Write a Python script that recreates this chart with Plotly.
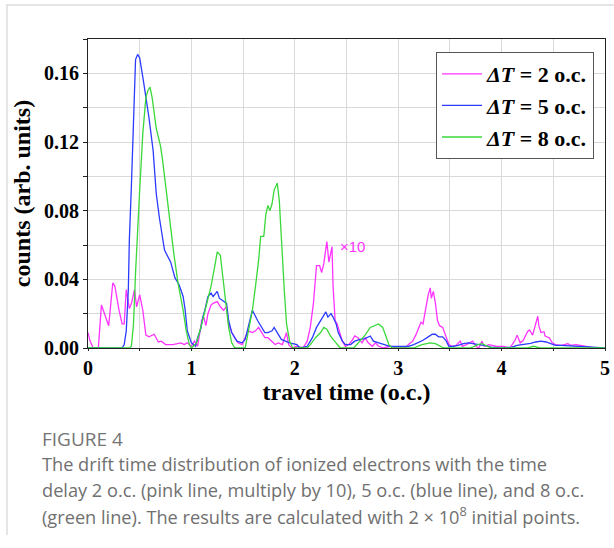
import plotly.graph_objects as go

# ---------------- data ----------------
pink_x = [0.0, 0.02, 0.05, 0.10, 0.13, 0.155, 0.20, 0.24, 0.26, 0.30, 0.33, 0.35, 0.37, 0.40, 0.42, 0.45, 0.47, 0.50,
          0.53, 0.56, 0.59, 0.64, 0.68, 0.71, 0.75, 0.82, 0.87, 0.90, 0.93, 0.96, 1.00, 1.03, 1.06, 1.08, 1.10, 1.12,
          1.14, 1.16, 1.19, 1.21, 1.25, 1.28, 1.31, 1.34, 1.36, 1.39, 1.42, 1.45, 1.49, 1.52, 1.55, 1.59, 1.62, 1.65,
          1.68, 1.71, 1.74, 1.78, 1.81, 1.84, 1.88, 1.92, 1.94, 1.97, 2.02, 2.08, 2.12, 2.15, 2.18, 2.21, 2.24, 2.26,
          2.28, 2.31, 2.33, 2.36, 2.37, 2.39, 2.41, 2.43, 2.46, 2.49, 2.52, 2.55, 2.58, 2.61, 2.65, 2.68, 2.71, 2.75,
          2.78, 2.81, 2.86, 2.92, 3.00, 3.07, 3.10, 3.14, 3.17, 3.20, 3.22, 3.24, 3.27, 3.29, 3.31, 3.32, 3.34, 3.36,
          3.38, 3.40, 3.43, 3.46, 3.49, 3.52, 3.56, 3.60, 3.62, 3.66, 3.72, 3.75, 3.78, 3.81, 3.83, 3.88, 3.95, 4.02,
          4.08, 4.13, 4.15, 4.18, 4.21, 4.25, 4.27, 4.30, 4.32, 4.35, 4.36, 4.38, 4.41, 4.42, 4.46, 4.49, 4.52, 4.58,
          4.64, 4.67, 4.72, 4.76, 4.82, 4.90, 5.0]
pink_y = [0.009, 0.004, 0.0, 0.0, 0.025, 0.021, 0.013, 0.038, 0.036, 0.022, 0.014, 0.014, 0.034, 0.023, 0.026, 0.034,
          0.024, 0.031, 0.022, 0.0075, 0.0065, 0.008, 0.0035, 0.004, 0.002, 0.002, 0.0025, 0.003, 0.002, 0.003, 0.001,
          0.004, 0.001, 0.010, 0.016, 0.018, 0.013, 0.020, 0.025, 0.026, 0.027, 0.024, 0.022, 0.024, 0.014, 0.009,
          0.006, 0.003, 0.002, 0.006, 0.010, 0.009, 0.010, 0.012, 0.009, 0.006, 0.006, 0.004, 0.002, 0.003, 0.002,
          0.009, 0.002, 0.0, 0.001, 0.0, 0.004, 0.012, 0.026, 0.048, 0.048, 0.044, 0.049, 0.062, 0.050, 0.059, 0.036,
          0.016, 0.014, 0.010, 0.004, 0.001, 0.002, 0.004, 0.007, 0.006, 0.003, 0.006, 0.003, 0.001, 0.003, 0.001,
          0.0, 0.001, 0.0, 0.0, 0.002, 0.004, 0.0075, 0.012, 0.015, 0.014, 0.024, 0.031, 0.035, 0.029, 0.033, 0.026,
          0.016, 0.013, 0.012, 0.0075, 0.002, 0.001, 0.0015, 0.004, 0.001, 0.002, 0.004, 0.001, 0.0, 0.004, 0.001,
          0.002, 0.001, 0.001, 0.0, 0.0045, 0.0075, 0.003, 0.0045, 0.0095, 0.0105, 0.0075, 0.012, 0.0185, 0.013,
          0.009, 0.0095, 0.007, 0.006, 0.003, 0.002, 0.0015, 0.0025, 0.0015, 0.002, 0.0015, 0.001, 0.0, 0.0]

blue_x = [0.0, 0.33, 0.35, 0.37, 0.39, 0.40, 0.42, 0.44, 0.46, 0.48, 0.50, 0.54, 0.56, 0.59, 0.63, 0.66, 0.69, 0.74,
          0.80, 0.84, 0.88, 0.92, 0.94, 0.96, 1.00, 1.04, 1.06, 1.09, 1.11, 1.13, 1.16, 1.19, 1.21, 1.25, 1.27, 1.31,
          1.34, 1.36, 1.39, 1.44, 1.49, 1.52, 1.55, 1.59, 1.64, 1.68, 1.71, 1.74, 1.78, 1.80, 1.83, 1.87, 1.95, 2.02,
          2.05, 2.12, 2.17, 2.21, 2.26, 2.30, 2.32, 2.35, 2.37, 2.40, 2.42, 2.46, 2.49, 2.54, 2.58, 2.63, 2.68, 2.73,
          2.76, 2.81, 2.86, 2.92, 3.00, 3.10, 3.15, 3.20, 3.24, 3.29, 3.33, 3.36, 3.39, 3.43, 3.46, 3.49, 3.53, 3.58,
          3.63, 3.68, 3.73, 3.78, 3.83, 3.90, 4.00, 4.10, 4.15, 4.21, 4.28, 4.33, 4.38, 4.43, 4.47, 4.52, 4.58, 4.66,
          4.76, 4.86, 4.95, 5.0]
blue_y = [0.0, 0.0, 0.002, 0.010, 0.034, 0.063, 0.095, 0.135, 0.168, 0.171, 0.169, 0.154, 0.146, 0.134, 0.115, 0.090,
          0.076, 0.057, 0.050, 0.041, 0.037, 0.030, 0.022, 0.010, 0.003, 0.001, 0.006, 0.011, 0.018, 0.022, 0.030,
          0.032, 0.030, 0.033, 0.029, 0.027, 0.026, 0.016, 0.009, 0.004, 0.003, 0.005, 0.012, 0.022, 0.016, 0.012,
          0.009, 0.009, 0.010, 0.012, 0.009, 0.005, 0.003, 0.002, 0.0, 0.001, 0.006, 0.012, 0.017, 0.021, 0.018,
          0.020, 0.018, 0.014, 0.009, 0.004, 0.002, 0.002, 0.004, 0.005, 0.0055, 0.007, 0.004, 0.003, 0.002, 0.001,
          0.001, 0.001, 0.002, 0.0035, 0.0045, 0.0065, 0.008, 0.008, 0.0065, 0.0065, 0.0045, 0.001, 0.001, 0.0015,
          0.0025, 0.003, 0.0027, 0.002, 0.0015, 0.0005, 0.0, 0.0005, 0.0015, 0.002, 0.0027, 0.0035, 0.004, 0.0035,
          0.0025, 0.0015, 0.0015, 0.0012, 0.001, 0.0005, 0.0, 0.0]

green_x = [0.0, 0.40, 0.42, 0.44, 0.46, 0.48, 0.50, 0.53, 0.56, 0.58, 0.60, 0.62, 0.66, 0.70, 0.72, 0.75, 0.77, 0.79,
           0.83, 0.87, 0.92, 0.95, 0.98, 1.00, 1.05, 1.10, 1.15, 1.19, 1.23, 1.25, 1.28, 1.30, 1.33, 1.36, 1.39, 1.42,
           1.52, 1.55, 1.59, 1.62, 1.65, 1.67, 1.70, 1.72, 1.74, 1.76, 1.78, 1.80, 1.83, 1.85, 1.87, 1.90, 1.92, 1.95,
           1.98, 2.12, 2.15, 2.20, 2.25, 2.28, 2.31, 2.34, 2.37, 2.41, 2.44, 2.57, 2.63, 2.68, 2.73, 2.78, 2.81, 2.85,
           2.88, 2.91, 2.94, 3.15, 3.23, 3.28, 3.31, 3.36, 3.40, 3.44, 3.70, 3.77, 3.81, 3.86, 3.90, 4.25, 4.31, 4.37,
           5.0]
green_y = [0.0, 0.0, 0.001, 0.014, 0.044, 0.073, 0.092, 0.125, 0.146, 0.150, 0.152, 0.146, 0.128, 0.118, 0.110, 0.095,
           0.085, 0.073, 0.055, 0.038, 0.022, 0.010, 0.002, 0.0, 0.003, 0.014, 0.026, 0.036, 0.049, 0.056, 0.054, 0.044,
           0.030, 0.012, 0.003, 0.0, 0.0, 0.009, 0.022, 0.036, 0.051, 0.065, 0.065, 0.078, 0.083, 0.080, 0.084, 0.092,
           0.096, 0.086, 0.061, 0.032, 0.014, 0.004, 0.0, 0.0, 0.002, 0.006, 0.009, 0.012, 0.011, 0.0075, 0.005, 0.002,
           0.0, 0.0, 0.004, 0.0075, 0.012, 0.013, 0.014, 0.012, 0.007, 0.002, 0.0, 0.0, 0.002, 0.0025, 0.003, 0.0025,
           0.001, 0.0, 0.0, 0.002, 0.0025, 0.001, 0.0, 0.0, 0.001, 0.0, 0.0]

series_names = ["<i>ΔT</i> = 2 o.c.", "<i>ΔT</i> = 5 o.c.", "<i>ΔT</i> = 8 o.c."]
series_colors = ["#ff33ff", "#2b3bff", "#3ad83a"]

y_tickvals = [0.0, 0.04, 0.08, 0.12, 0.16]
y_ticktext = ["0.00", "0.04", "0.08", "0.12", "0.16"]
x_tickvals = [0, 1, 2, 3, 4, 5]

caption_head = "FIGURE 4"
caption_lines = [
    "The drift time distribution of ionized electrons with the time",
    "delay 2 o.c. (pink line, multiply by 10), 5 o.c. (blue line), and 8 o.c.",
    "(green line). The results are calculated with 2 × 10<sup>8</sup> initial points.",
]

assert len(pink_x) == len(pink_y)
assert len(blue_x) == len(blue_y)
assert len(green_x) == len(green_y)

# ---------------- layout geometry ----------------
W, H = 614, 548
L, R, T, B = 88, 9, 39, 200
PW, PH = W - L - R, H - T - B


def px(xp):
    return (xp - L) / PW


def py(yp):
    return (H - B - yp) / PH


SERIF = "Liberation Serif, Times New Roman, serif"
SANS = "Open Sans, Noto Sans, sans-serif"

fig = go.Figure()
for xs, ys, name, col in zip([pink_x, blue_x, green_x], [pink_y, blue_y, green_y], series_names, series_colors):
    fig.add_trace(go.Scatter(x=xs, y=ys, mode="lines", name=name,
                             line=dict(color=col, width=1.3), hoverinfo="skip"))

axis_common = dict(showline=True, linecolor="#222", linewidth=1, mirror=True,
                   showgrid=True, gridcolor="#d9d9d9", gridwidth=1, zeroline=False,
                   ticks="outside", tickcolor="#222", layer="below traces",
                   tickfont=dict(family=SERIF, size=20, color="#000", weight="bold"))

fig.update_xaxes(range=[0, 5], tickvals=x_tickvals, ticktext=[str(v) for v in x_tickvals], ticklen=2,
                 minor=dict(dtick=0.5, tick0=0, showgrid=True, gridcolor="#d9d9d9", ticks="outside",
                            ticklen=2, tickcolor="#222"),
                 title=dict(text="travel time (o.c.)", standoff=4,
                            font=dict(family=SERIF, size=24, color="#000", weight="bold")),
                 **axis_common)
fig.update_yaxes(range=[0, 0.18], tickvals=y_tickvals, ticktext=y_ticktext, ticklen=4,
                 minor=dict(dtick=0.02, tick0=0, showgrid=True, gridcolor="#d9d9d9", ticks="outside",
                            ticklen=4, tickcolor="#222"),
                 title=dict(text="counts (arb. units)", standoff=6,
                            font=dict(family=SERIF, size=24, color="#000", weight="bold")),
                 **axis_common)

annotations = [
    dict(x=2.42, y=0.0594, xref="x", yref="y", text="×10", showarrow=False, xanchor="left", yanchor="middle",
         font=dict(family="Liberation Sans, Arial, sans-serif", size=15, color="#ff33ff")),
    dict(x=px(40), y=py(439), xref="paper", yref="paper", text=caption_head, showarrow=False,
         xanchor="left", yanchor="middle", font=dict(family=SANS, size=19, color="#757575", weight=500)),
]
for i, line in enumerate(caption_lines):
    annotations.append(dict(x=px(40), y=py(464 + 25.5 * i), xref="paper", yref="paper", text=line,
                            showarrow=False, xanchor="left", yanchor="middle",
                            font=dict(family=SANS, size=18.2, color="#707070")))

shapes = [
    dict(type="line", xref="paper", yref="paper", x0=px(6), x1=px(614), y0=py(5), y1=py(5),
         line=dict(color="#dcdcdc", width=1.5)),
    dict(type="line", xref="paper", yref="paper", x0=px(7), x1=px(7), y0=py(5), y1=py(535),
         line=dict(color="#dcdcdc", width=1.5)),
]

fig.update_layout(
    width=W, height=H, margin=dict(l=L, r=R, t=T, b=B, autoexpand=False),
    paper_bgcolor="white", plot_bgcolor="white",
    showlegend=True,
    legend=dict(x=px(436), y=py(52), xanchor="left", yanchor="top", bgcolor="white",
                bordercolor="#555", borderwidth=1,
                font=dict(family=SERIF, size=22, color="#000", weight="bold"),
                itemwidth=40, tracegroupgap=0),
    annotations=annotations, shapes=shapes,
)

fig.write_html("out.html")
